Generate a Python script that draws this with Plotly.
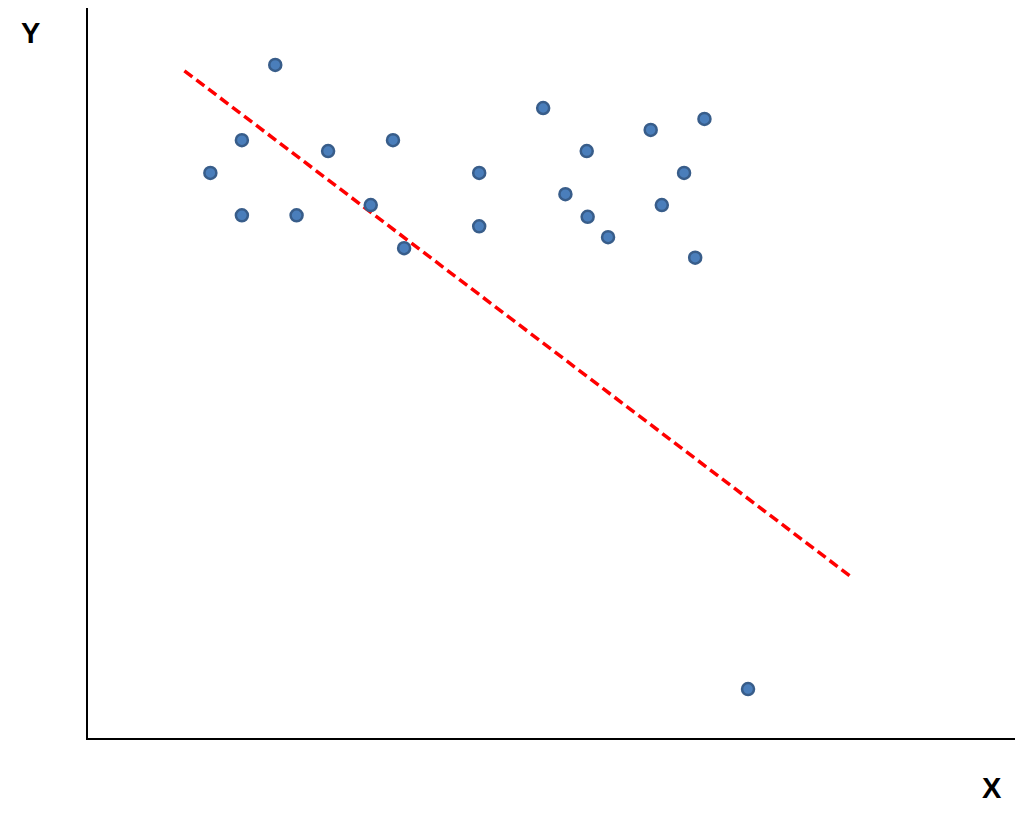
import plotly.graph_objects as go

# Scatter data (arbitrary units)
x_vals = [13.2, 16.6, 16.6, 20.2, 22.5, 25.9, 30.5, 32.9, 34.1, 42.2, 42.2,
          49.1, 51.5, 53.8, 53.9, 56.1, 60.7, 61.9, 64.3, 65.5, 66.5, 71.2]
y_vals = [77.4, 81.9, 71.6, 92.2, 71.6, 80.4, 73.0, 81.9, 67.1, 77.4, 70.1,
          86.3, 74.5, 80.4, 71.4, 68.6, 83.3, 73.0, 77.4, 65.8, 84.8, 6.7]

# Trend line endpoints
line_x = [10.4, 82.3]
line_y = [91.4, 22.1]

x_label = "X"
y_label = "Y"

fig = go.Figure()
fig.add_trace(go.Scatter(
    x=line_x, y=line_y, mode="lines",
    line=dict(color="#ff0000", width=3.5, dash="10px,5px"),
    hoverinfo="skip", showlegend=False))
fig.add_trace(go.Scatter(
    x=x_vals, y=y_vals, mode="markers",
    marker=dict(size=12, color="#4a7ebb", line=dict(color="#385d8a", width=2.5)),
    showlegend=False))

axis_common = dict(showgrid=False, zeroline=False, showticklabels=False,
                   ticks="", showline=True, linecolor="black", linewidth=2,
                   mirror=False)
fig.update_xaxes(range=[0, 100], **axis_common)
fig.update_yaxes(range=[0, 100], **axis_common)

fig.update_layout(
    width=1024, height=815,
    margin=dict(l=80, r=17, t=0, b=85),
    paper_bgcolor="white", plot_bgcolor="white",
    font=dict(family="Liberation Sans Narrow, Liberation Sans, Arial, sans-serif", color="black"),
    annotations=[
        dict(text=f"<b>{y_label}</b>", x=-0.0615, y=0.966, xref="paper", yref="paper",
             showarrow=False, font=dict(size=29), xanchor="center", yanchor="middle"),
        dict(text=f"<b>{x_label}</b>", x=0.975, y=-0.0685, xref="paper", yref="paper",
             showarrow=False, font=dict(size=29), xanchor="center", yanchor="middle"),
    ],
)

fig.write_html("out.html")
